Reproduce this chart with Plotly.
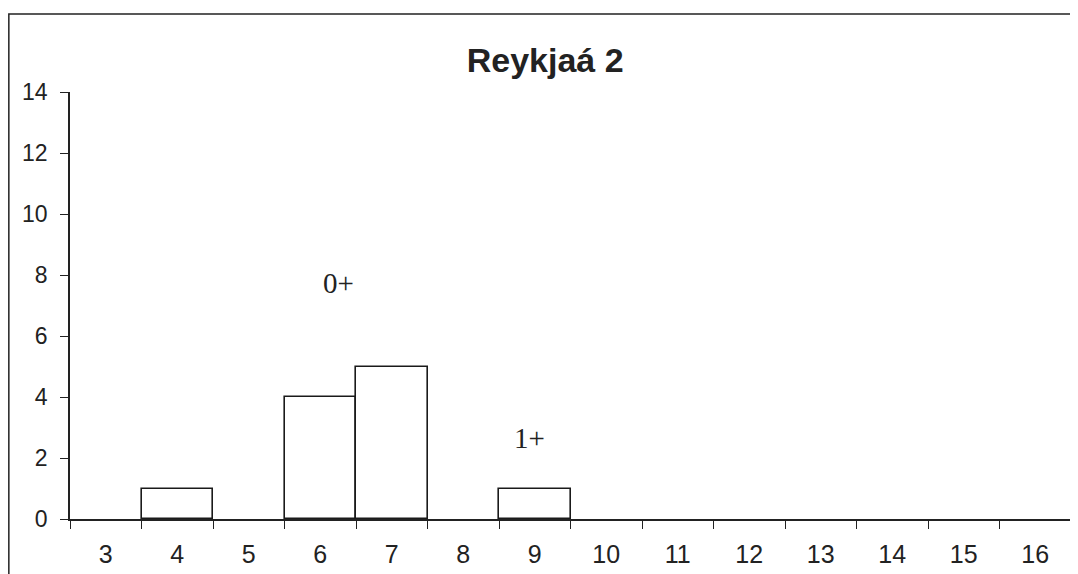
import plotly.graph_objects as go

categories = ["3", "4", "5", "6", "7", "8", "9", "10", "11", "12", "13", "14", "15", "16"]
counts = [0, 1, 0, 4, 5, 0, 1, 0, 0, 0, 0, 0, 0, 0]
y_ticks = [0, 2, 4, 6, 8, 10, 12, 14]
title_text = "Reykjaá 2"
labels = ["0+", "1+"]
label_x = [3.25, 5.93]
label_y = [7.75, 2.65]

outline_widths = [1.6 if c > 0 else 0 for c in counts]

fig = go.Figure()
fig.add_trace(go.Bar(
    x=categories, y=counts,
    marker=dict(color="white", line=dict(color="#1a1a1a", width=outline_widths)),
    showlegend=False,
))

for t, xx, yy in zip(labels, label_x, label_y):
    fig.add_annotation(x=xx, y=yy, xref="x", yref="y", text=t, showarrow=False,
                       font=dict(family="Liberation Serif, Times New Roman, serif", size=29, color="#222"))

fig.add_shape(type="rect", xref="paper", yref="paper",
              x0=-0.0611, x1=1.05, y0=-0.3, y1=1.1827,
              line=dict(color="#222", width=1.5), fillcolor="rgba(0,0,0,0)", layer="below")

fig.update_layout(
    width=1070, height=566,
    margin=dict(l=62, r=7, t=84, b=55, autoexpand=False),
    paper_bgcolor="white", plot_bgcolor="white",
    bargap=0,
    title=dict(text="<b>" + title_text + "</b>", x=0.502, xanchor="center", y=0.908, yanchor="middle",
               font=dict(family="Liberation Sans, Arial, sans-serif", size=34, color="#222")),
    font=dict(family="Liberation Sans, Arial, sans-serif", size=23, color="#222"),
)
fig.update_xaxes(type="category", categoryorder="array", categoryarray=categories,
                 showline=True, linecolor="#222", linewidth=1.6, showgrid=False,
                 ticks="outside", tickson="boundaries", ticklen=8, tickcolor="#222", tickwidth=1.2,
                 tickfont=dict(size=25), ticklabelstandoff=12, range=[-0.5, 13.5],
                 fixedrange=True, automargin=False)
fig.update_yaxes(range=[0, 14], tickvals=y_ticks, showline=True, linecolor="#222", linewidth=1.5,
                 showgrid=False, zeroline=False, ticks="outside", ticklen=8, tickcolor="#222",
                 tickwidth=1.2, tickfont=dict(size=23), ticklabelstandoff=8, automargin=False)

fig.write_html("out.html")
